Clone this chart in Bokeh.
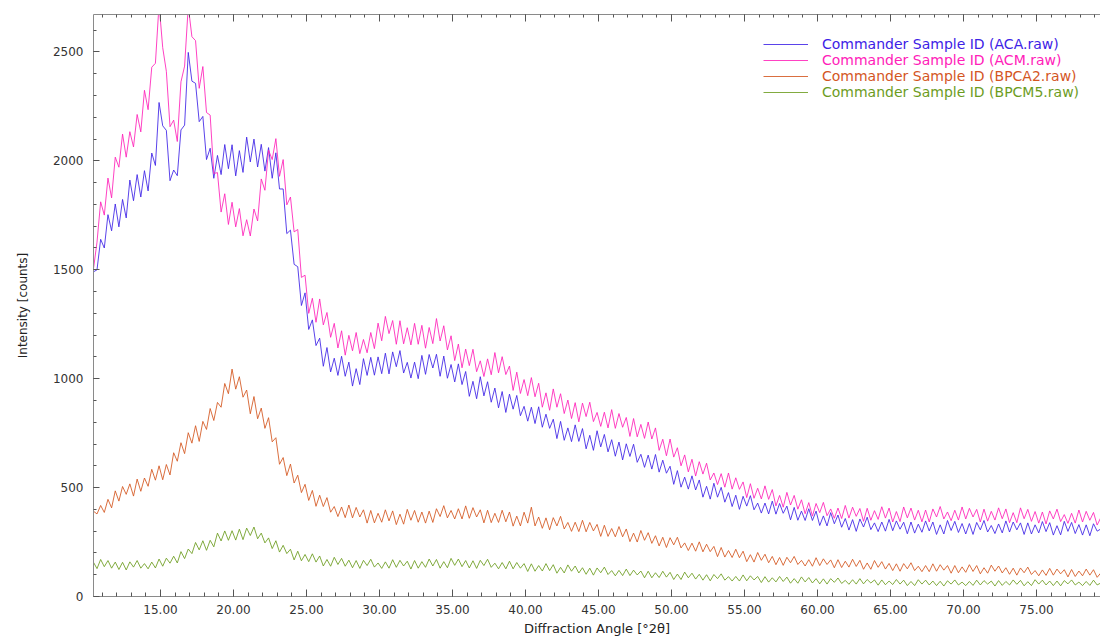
from bokeh.plotting import figure
from bokeh.models import (Range1d, LinearAxis, FixedTicker, PrintfTickFormatter,
                          Legend, LegendItem, ColumnDataSource, CustomLabelingPolicy)
from bokeh.embed import file_html
from bokeh.resources import INLINE

# ---- data ----
X_START = 10.4   # first 2theta of the scan
X_STEP = 0.25    # scan step, degrees 2theta

ACA = [
    1490, 1500, 1640, 1600,
    1753, 1679, 1802, 1697,
    1823, 1738, 1912, 1817,
    1937, 1834, 1955, 1862,
    2036, 1979, 2268, 2161,
    2140, 1909, 1958, 1932,
    2142, 2164, 2498, 2366,
    2356, 2180, 2204, 2006,
    2058, 1920, 2025, 1937,
    2075, 1964, 2074, 1931,
    2047, 1947, 2109, 1995,
    2100, 1972, 2076, 1953,
    2061, 1920, 2037, 1871,
    1871, 1666, 1682, 1525,
    1514, 1336, 1394, 1226,
    1270, 1152, 1186, 1057,
    1143, 1031, 1094, 1015,
    1103, 1011, 1076, 966,
    1046, 973, 1092, 1015,
    1098, 1016, 1100, 1023,
    1117, 1022, 1123, 1055,
    1129, 1026, 1075, 1003,
    1076, 1000, 1107, 1020,
    1111, 1049, 1112, 1011,
    1104, 1002, 1065, 985,
    1068, 973, 1033, 919,
    988, 908, 1009, 921,
    986, 892, 957, 866,
    941, 845, 929, 860,
    923, 830, 873, 805,
    869, 794, 871, 777,
    837, 772, 814, 725,
    804, 717, 774, 711,
    788, 712, 771, 678,
    740, 671, 761, 687,
    744, 664, 720, 644,
    709, 627, 701, 643,
    699, 616, 653, 593,
    649, 585, 652, 571,
    626, 566, 598, 515,
    578, 502, 548, 493,
    554, 489, 535, 456,
    506, 447, 520, 456,
    501, 433, 477, 413,
    465, 400, 460, 415,
    463, 398, 429, 383,
    429, 379, 438, 378,
    427, 382, 415, 352,
    409, 350, 392, 349,
    403, 349, 392, 326,
    370, 324, 385, 334,
    374, 318, 358, 305,
    353, 299, 356, 319,
    364, 307, 338, 298,
    342, 300, 354, 302,
    347, 309, 341, 288,
    342, 291, 332, 295,
    347, 301, 342, 285,
    329, 287, 349, 303,
    345, 294, 335, 287,
    335, 285, 340, 306,
    349, 296, 326, 289,
    333, 292, 347, 296,
    342, 306, 338, 285,
    338, 287, 329, 292,
    344, 298, 339, 282,
    325, 283, 345, 299,
    340, 289, 330, 282,
    329, 279, 334, 300,
    310,
]

ACM = [
    1500, 1627, 1812, 1751,
    1921, 1830, 2017, 1971,
    2123, 2017, 2134, 2064,
    2213, 2133, 2324, 2235,
    2430, 2448, 2720, 2520,
    2411, 2157, 2187, 2089,
    2363, 2435, 2710, 2570,
    2552, 2333, 2433, 2222,
    2210, 1942, 1946, 1765,
    1849, 1708, 1810, 1697,
    1781, 1656, 1730, 1655,
    1779, 1724, 1917, 1865,
    2049, 2006, 2102, 1929,
    2006, 1798, 1834, 1674,
    1685, 1465, 1475, 1300,
    1369, 1259, 1366, 1247,
    1304, 1190, 1254, 1141,
    1220, 1108, 1199, 1128,
    1212, 1115, 1180, 1119,
    1212, 1138, 1255, 1174,
    1286, 1207, 1267, 1158,
    1266, 1160, 1234, 1155,
    1254, 1158, 1245, 1140,
    1235, 1161, 1276, 1173,
    1243, 1132, 1197, 1083,
    1159, 1050, 1136, 1060,
    1135, 1032, 1082, 1010,
    1091, 1018, 1120, 1027,
    1101, 1019, 1058, 946,
    1030, 932, 996, 922,
    1005, 917, 979, 869,
    935, 855, 953, 869,
    931, 840, 902, 817,
    890, 802, 888, 826,
    892, 803, 845, 781,
    846, 774, 858, 772,
    840, 777, 822, 735,
    817, 733, 790, 726,
    801, 723, 774, 671,
    722, 646, 723, 640,
    683, 600, 650, 572,
    630, 553, 619, 562,
    612, 535, 567, 514,
    564, 502, 567, 493,
    545, 492, 526, 454,
    518, 451, 497, 448,
    508, 446, 491, 416,
    464, 410, 478, 420,
    464, 401, 444, 380,
    431, 369, 427, 385,
    432, 371, 402, 359,
    406, 358, 418, 360,
    410, 368, 404, 345,
    405, 350, 394, 354,
    412, 360, 406, 342,
    390, 344, 411, 361,
    406, 351, 396, 343,
    397, 342, 402, 365,
    413, 356, 388, 348,
    396, 351, 411, 356,
    405, 365, 400, 342,
    401, 346, 391, 351,
    407, 357, 402, 339,
    385, 339, 407, 357,
    400, 345, 390, 337,
    388, 333, 393, 356,
    401, 344, 376, 336,
    382, 337, 397, 342,
    391, 350, 386, 328,
    362,
]

BPCA2 = [
    392, 379, 418, 386,
    446, 407, 485, 438,
    505, 469, 517, 461,
    539, 483, 544, 506,
    584, 534, 600, 536,
    606, 558, 660, 621,
    706, 656, 752, 704,
    784, 712, 804, 767,
    863, 808, 891, 869,
    978, 931, 1044, 952,
    1009, 915, 948, 839,
    918, 816, 865, 772,
    821, 710, 729, 607,
    638, 555, 608, 521,
    557, 477, 515, 441,
    487, 414, 465, 413,
    454, 387, 413, 367,
    411, 362, 420, 361,
    409, 365, 398, 337,
    395, 338, 382, 341,
    398, 347, 393, 330,
    378, 332, 400, 350,
    395, 341, 388, 337,
    392, 340, 403, 367,
    417, 361, 395, 356,
    403, 356, 416, 359,
    408, 365, 398, 338,
    396, 339, 382, 340,
    396, 343, 388, 323,
    369, 324, 387, 337,
    410, 324, 365, 313,
    361, 306, 362, 324,
    368, 310, 340, 299,
    341, 298, 350, 297,
    340, 301, 331, 276,
    327, 276, 312, 274,
    321, 274, 310, 252,
    291, 250, 303, 258,
    293, 244, 279, 232,
    272, 225, 270, 237,
    272, 223, 246, 211,
    245, 208, 251, 205,
    240, 206, 230, 183,
    225, 181, 211, 179,
    217, 178, 208, 160,
    192, 158, 202, 166,
    194, 155, 184, 146,
    179, 143, 180, 155,
    184, 147, 166, 140,
    169, 139, 178, 142,
    173, 147, 168, 132,
    169, 133, 162, 135,
    171, 138, 166, 125,
    154, 125, 165, 134,
    160, 126, 152, 119,
    150, 116, 151, 127,
    155, 119, 139, 114,
    142, 114, 150, 116,
    146, 121, 142, 107,
    142, 109, 136, 111,
    146, 115, 142, 104,
    132, 107, 144, 116,
    140, 108, 132, 102,
    130, 98, 131, 109,
    135, 101, 119, 95,
    122, 97, 129, 98,
    126, 104, 123, 90,
    124, 92, 117, 95,
    126, 98, 123, 88,
    108,
]

BPCM5 = [
    158, 128, 170, 137,
    165, 130, 158, 124,
    157, 122, 159, 135,
    165, 130, 151, 127,
    158, 131, 172, 139,
    176, 153, 185, 154,
    206, 174, 218, 197,
    248, 214, 256, 212,
    258, 228, 291, 255,
    301, 258, 302, 259,
    309, 261, 314, 280,
    319, 265, 291, 246,
    269, 220, 256, 204,
    235, 197, 217, 168,
    208, 164, 193, 160,
    196, 158, 186, 140,
    170, 139, 180, 147,
    175, 139, 167, 132,
    165, 129, 166, 142,
    171, 135, 154, 129,
    159, 130, 169, 134,
    166, 140, 162, 126,
    165, 130, 160, 134,
    172, 140, 170, 130,
    160, 132, 175, 143,
    172, 137, 165, 131,
    164, 129, 166, 142,
    171, 134, 153, 127,
    156, 127, 162, 127,
    156, 130, 151, 115,
    150, 116, 142, 117,
    151, 119, 146, 107,
    134, 108, 145, 116,
    140, 108, 132, 102,
    130, 98, 131, 109,
    135, 101, 119, 95,
    120, 96, 126, 96,
    121, 99, 117, 86,
    116, 86, 109, 87,
    116, 89, 111, 78,
    103, 78, 112, 86,
    107, 80, 102, 75,
    100, 72, 101, 82,
    104, 75, 91, 71,
    92, 71, 99, 72,
    95, 76, 92, 64,
    91, 66, 86, 67,
    92, 69, 89, 61,
    82, 61, 90, 67,
    87, 62, 82, 58,
    81, 57, 82, 65,
    85, 60, 74, 56,
    77, 57, 82, 58,
    78, 62, 76, 52,
    76, 54, 71, 55,
    78, 57, 75, 50,
    69, 50, 77, 57,
    75, 53, 71, 50,
    70, 48, 72, 57,
    76, 53, 66, 50,
    69, 51, 75, 53,
    73, 57, 71, 48,
    73, 51, 69, 53,
    76, 56, 74, 49,
    68, 50, 77, 57,
    75, 53, 71, 50,
    71, 49, 73, 58,
    76, 53, 66, 50,
    69, 51, 75, 53,
    62,
]

SERIES = [
    ("Commander Sample ID (ACA.raw)", ACA, "#3d22e6"),
    ("Commander Sample ID (ACM.raw)", ACM, "#ff21b9"),
    ("Commander Sample ID (BPCA2.raw)", BPCA2, "#d4561f"),
    ("Commander Sample ID (BPCM5.raw)", BPCM5, "#6c9c1e"),
]

X_TICKS = [15, 20, 25, 30, 35, 40, 45, 50, 55, 60, 65, 70, 75]
X_MINOR = list(range(11, 80))
Y_TICKS = [0, 500, 1000, 1500, 2000, 2500]
Y_MINOR = list(range(0, 2700, 100))

X_LABEL = "Diffraction Angle [°2θ]"
Y_LABEL = "Intensity [counts]"

FONT = "DejaVu Sans"

p = figure(width=1100, height=641, output_backend="svg", toolbar_location=None,
           x_range=Range1d(10.41, 79.38), y_range=Range1d(0, 2672),
           x_axis_label=X_LABEL, y_axis_label=Y_LABEL,
           min_border_left=93, min_border_right=0, min_border_top=14,
           min_border_bottom=45)
p.outline_line_color = None
p.grid.visible = False
p.background_fill_color = "white"
p.border_fill_color = "white"

renderers = []
for label, ys, color in SERIES:
    xs = [round(X_START + i * X_STEP, 3) for i in range(len(ys))]
    src = ColumnDataSource(dict(x=xs, y=ys))
    r = p.line("x", "y", source=src, line_color=color, line_width=1, line_alpha=0.85)
    renderers.append(r)

def style_axis(ax, major_in, minor_in):
    ax.axis_line_color = "#8a8a8a"
    ax.axis_line_width = 1
    ax.major_tick_in = major_in
    ax.major_tick_out = 0
    ax.minor_tick_in = minor_in
    ax.minor_tick_out = 0
    ax.major_tick_line_color = "#555555"
    ax.minor_tick_line_color = "#555555"
    ax.major_label_text_font = FONT
    ax.major_label_text_font_size = "12px"
    ax.major_label_text_color = "#333333"
    ax.axis_label_text_font = FONT
    ax.axis_label_text_font_style = "normal"
    ax.axis_label_text_color = "#222222"

xax = p.xaxis[0]
xax.ticker = FixedTicker(ticks=X_TICKS, minor_ticks=X_MINOR)
xax.formatter = PrintfTickFormatter(format="%.2f")
style_axis(xax, 7, 4)
xax.major_label_standoff = 8
xax.axis_label_standoff = 4
xax.axis_label_text_font_size = "13px"

yax = p.yaxis[0]
yax.ticker = FixedTicker(ticks=Y_TICKS, minor_ticks=Y_MINOR)
yax.formatter = PrintfTickFormatter(format="%d")
style_axis(yax, 6, 3)
yax.major_label_standoff = 10
yax.axis_label_standoff = 20
yax.axis_label_text_font_size = "12px"

# mirrored tick marks along the top edge, without labels
top = LinearAxis(ticker=FixedTicker(ticks=X_TICKS, minor_ticks=X_MINOR))
style_axis(top, 7, 3)
top.major_label_standoff = 0
top.major_label_policy = CustomLabelingPolicy(
    code="for (const i of indices) { indices.unset(i) } return indices")
p.add_layout(top, "above")

# legend: one per entry so each label keeps its series colour
LEG_X = 670
LEG_ROWS_FROM_TOP = [30, 46, 62, 78]
frame_h = 641 - 14 - 45
for (label, ys, color), r, row in zip(SERIES, renderers, LEG_ROWS_FROM_TOP):
    leg = Legend(items=[LegendItem(label=label, renderers=[r])],
                 location=(LEG_X, frame_h - row - 8),
                 padding=0, margin=0, spacing=0,
                 glyph_width=45, glyph_height=16, label_height=16,
                 label_standoff=14, label_text_font=FONT,
                 label_text_font_size="14px", label_text_color=color,
                 border_line_alpha=0, background_fill_alpha=0)
    p.add_layout(leg)

open("out.html", "w").write(file_html(p, INLINE))
